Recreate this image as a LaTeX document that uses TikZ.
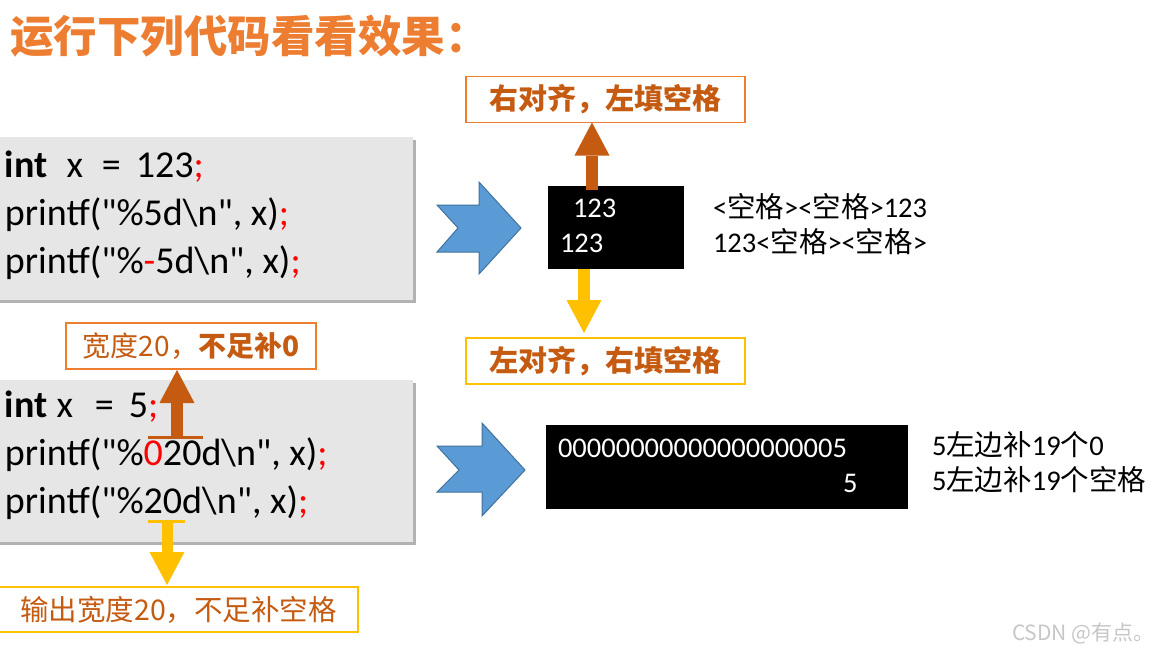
\documentclass[tikz,border=0pt]{standalone}
\usepackage{fontspec}
\setmainfont{Carlito}
\newfontfamily\codefont{Carlito}
\newfontfamily\cjk{Noto Sans CJK SC}
\usetikzlibrary{arrows.meta,shadows}
\definecolor{titleorange}{HTML}{ED7D31}
\definecolor{rust}{HTML}{C55A11}
\definecolor{amber}{HTML}{FFC000}
\definecolor{skyfill}{HTML}{5B9BD5}
\definecolor{skyline}{HTML}{41719C}
\definecolor{codegray}{HTML}{E6E6E6}

\begin{document}
\begin{tikzpicture}
[x=1pt,y=-1pt,%
  every node/.style={inner sep=0pt,outer sep=0pt},%
  codebox/.style={fill=codegray,drop shadow={shadow xshift=3pt,shadow yshift=-3pt,opacity=0.3,fill=black}},%
  codeline/.style={anchor=base west,font=\codefont\fontsize{38}{46}\selectfont},%
  screen/.style={fill=black},%
  outtext/.style={anchor=base west,text=white,font=\fontsize{28.5}{34}\selectfont},%
  note/.style={anchor=base west,font=\fontsize{28.5}{34}\selectfont},%
  tagbox/.style={draw=#1,line width=1.5pt,fill=white,text=rust},%
  fatarrow/.style={draw=#1,line width=12pt,-{Triangle[width=35pt,length=33pt,line width=0pt]}},%
  markbar/.style={draw=#1,line width=3pt},%
  chevron/.style={fill=skyfill,draw=skyline,line width=1pt}]
\useasboundingbox[fill=white] (0,0) rectangle (1166,653);

% title
\node[anchor=west,text=titleorange,font=\cjk\bfseries\fontsize{43.5}{48}\selectfont] (title) at (10,36) {运行下列代码看看效果：};

% code blocks
\node[codebox,minimum width=420pt,minimum height=163pt] (box1) at (203,218.5) {};
\node[codeline] (c1a) at (5,177) {\textbf{int}\hspace{19pt}x\hspace{19pt}=\hspace{15pt}123\textcolor{red}{;}};
\node[codeline] (c1b) at (5,225) {printf("\%5d\textbackslash n", x)\textcolor{red}{;}};
\node[codeline] (c1c) at (5,273) {printf("\%\textcolor{red}{-}5d\textbackslash n", x)\textcolor{red}{;}};

\node[codebox,minimum width=420pt,minimum height=162pt] (box2) at (203,461) {};
\node[codeline] (c2a) at (5,417) {\textbf{int}\hspace{9pt}x\hspace{22pt}=\hspace{15pt}5\textcolor{red}{;}};
\node[codeline] (c2b) at (5,465) {printf("\%\textcolor{red}{0}20d\textbackslash n", x)\textcolor{red}{;}};
\node[codeline] (c2c) at (5,513) {printf("\%20d\textbackslash n", x)\textcolor{red}{;}};

% blue arrows
\filldraw[chevron] (437,205) -- (479,205) -- (479,182) -- (521,228) -- (479,274)
  -- (479,252) -- (437,252) -- (458,228) -- cycle;
\filldraw[chevron] (437,446) -- (482,446) -- (482,423) -- (525,470) -- (482,516)
  -- (482,492) -- (437,492) -- (459,470) -- cycle;

% outputs
\node[screen,minimum width=136pt,minimum height=83pt] (scr1) at (616,227.5) {};
\node[outtext] (o1a) at (573,217) {123};
\node[outtext] (o1b) at (560,252) {123};
\node[screen,minimum width=362pt,minimum height=84pt] (scr2) at (727,467) {};
\node[outtext] (o2a) at (558,457) {00000000000000000005};
\node[outtext] (o2b) at (843,492) {5};

\node[note] (n1a) at (713,217) {<{\cjk 空格}><{\cjk 空格}>123};
\node[note] (n1b) at (713,252) {123<{\cjk 空格}><{\cjk 空格}>};
\node[note] (n2a) at (932,455) {5{\cjk 左边补}19{\cjk 个}0};
\node[note] (n2b) at (932,490) {5{\cjk 左边补}19{\cjk 个空格}};

% labels
\node[tagbox=titleorange,minimum width=279pt,minimum height=46pt,font=\cjk\bfseries\fontsize{29}{34}\selectfont] (right1) at (605.5,99.5) {右对齐，左填空格};
\node[tagbox=amber,minimum width=279pt,minimum height=46pt,font=\cjk\bfseries\fontsize{29}{34}\selectfont] (left1) at (605.5,361) {左对齐，右填空格};
\node[tagbox=titleorange,minimum width=250pt,minimum height=46pt,font=\cjk\fontsize{28}{34}\selectfont] (zero1) at (191,346) {宽度20，\textbf{不足补0}};
\node[tagbox=amber,minimum width=359pt,minimum height=45pt,font=\cjk\fontsize{28.5}{34}\selectfont] (space1) at (178.5,609.5) {输出宽度20，不足补空格};

% pointers
\draw[fatarrow=rust] ([xshift=-24pt,yshift=-4pt]scr1.north) -- ([xshift=-24pt]scr1.north |- right1.south);
\draw[fatarrow=amber,shorten >=5pt] ([xshift=-32pt]scr1.south) -- ([xshift=-32pt]scr1.south |- left1.north);
\coordinate (zeromark) at (177,437);
\draw[markbar=rust] ([xshift=-29pt]zeromark) -- ([xshift=26pt]zeromark);
\draw[fatarrow=rust,shorten >=1pt] (zeromark) -- (zeromark |- zero1.south);
\coordinate (widthmark) at (167,521);
\draw[markbar=amber] ([xshift=-19pt]widthmark) -- ([xshift=18pt]widthmark);
\draw[fatarrow=amber,line width=11pt,shorten >=2pt] (widthmark) -- (widthmark |- space1.north);

\node[anchor=west,text=black!22,font=\cjk\fontsize{21}{24}\selectfont] (mark) at (1012,633) {CSDN @有点。};
\end{tikzpicture}
\end{document}
